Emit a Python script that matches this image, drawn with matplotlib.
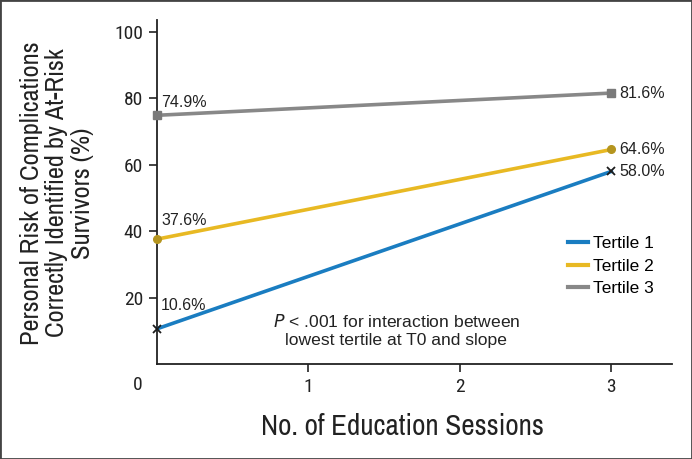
import numpy as np
import matplotlib.pyplot as plt
from matplotlib.patches import Rectangle

sessions = [0, 3]
tertile1 = [10.6, 58.0]
tertile2 = [37.6, 64.6]
tertile3 = [74.9, 81.6]
names = ['Tertile 1', 'Tertile 2', 'Tertile 3']

narrow = ['Archivo Narrow', 'Roboto Condensed', 'DejaVu Sans']
ticks = ['Roboto Condensed', 'Archivo Narrow', 'DejaVu Sans']
plain = ['Liberation Sans', 'DejaVu Sans']
ink = '#222222'

fig = plt.figure(figsize=(6.92, 4.59), dpi=100)
ax = fig.add_axes([157 / 692, 1 - 364 / 459, 515 / 692, 344 / 459])

ax.plot(sessions, tertile1, color='#1a7dc1', lw=2.6, label=names[0], zorder=3)
ax.plot(sessions, tertile1, 'x', color='#1c1c1c', ms=6, mew=1.3, zorder=4, clip_on=False)
ax.plot(sessions, tertile2, color='#e8b923', lw=2.6, label=names[1], zorder=3)
ax.plot(sessions, tertile2, 'o', color='#b5951f', ms=5.5, zorder=4, clip_on=False)
ax.plot(sessions, tertile3, color='#888888', lw=2.6, label=names[2], zorder=3)
ax.plot(sessions, tertile3, 's', color='#7a7a7a', ms=5.5, zorder=4, clip_on=False)

# value labels at the start
for s, dy in zip([tertile1, tertile2, tertile3], [17, 13.5, 9.5]):
    ax.annotate('%.1f%%' % s[0], (sessions[0], s[0]), xytext=(3, dy),
                textcoords='offset points', fontsize=11.5, family=plain,
                color=ink, va='center', ha='left')
# value labels at the end
for s in [tertile1, tertile2, tertile3]:
    ax.annotate('%.1f%%' % s[1], (sessions[1], s[1]), xytext=(6, 0),
                textcoords='offset points', fontsize=11.5, family=plain,
                color=ink, va='center', ha='left')

ax.text(1.58, 10.0, '$P$ < .001 for interaction between\nlowest tertile at T0 and slope',
        ha='center', va='center', fontsize=12.6, family=plain, color=ink,
        linespacing=1.25)

ax.set_xlim(0, 3.4)
ax.set_ylim(0, 103.6)
ax.set_xticks([1, 2, 3])
ax.set_yticks([20, 40, 60, 80, 100])
ax.tick_params(direction='out', length=6, width=1.2, labelsize=14,
               colors=ink, pad=4)
for lab in ax.get_xticklabels() + ax.get_yticklabels():
    lab.set_family(ticks)
ax.text(-0.125, -6.2, '0', fontsize=14, family=ticks, ha='center', va='center',
        color=ink, clip_on=False)

for side in ['top', 'right']:
    ax.spines[side].set_visible(False)
for side in ['left', 'bottom']:
    ax.spines[side].set_linewidth(1.3)
    ax.spines[side].set_color(ink)

fig.text(402 / 692, 1 - 435 / 459, 'No. of Education Sessions', fontsize=21,
         family=narrow, color=ink, ha='center', va='baseline')
fig.text(57 / 692, 1 - 193 / 459,
         'Personal Risk of Complications\nCorrectly Identified by At-Risk\nSurvivors (%)',
         fontsize=19, family=narrow, color=ink, rotation=90, ha='center',
         va='center', multialignment='center', linespacing=1.15)

leg = ax.legend(loc='upper left', bbox_to_anchor=(0.798, 0.372), frameon=False,
                prop={'family': plain, 'size': 12.5}, handlelength=1.15,
                handletextpad=0.3, labelspacing=0.42, borderaxespad=0,
                borderpad=0)
for h in leg.get_lines():
    h.set_linewidth(3)

fig.patches.append(Rectangle((0, 0), 1, 1, transform=fig.transFigure,
                             fill=False, edgecolor='#444444', lw=2))

plt.savefig('out.png', dpi=100)
